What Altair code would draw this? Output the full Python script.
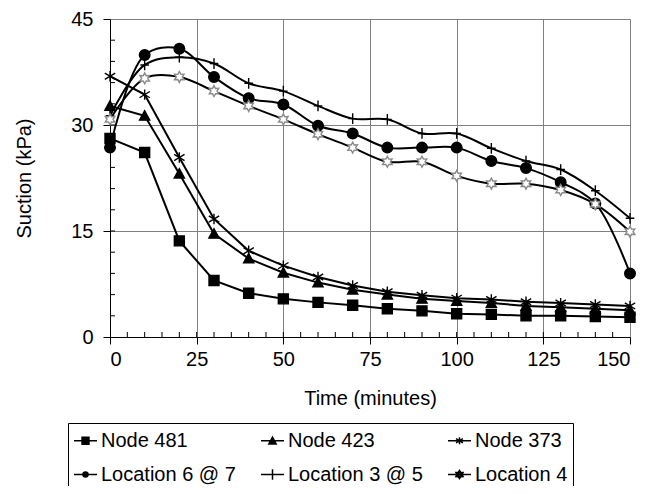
import math
import altair as alt
import pandas as pd

time = [0, 10, 20, 30, 40, 50, 60, 70, 80, 90, 100, 110, 120, 130, 140, 150]

node_481 = [28.1, 26.1, 13.6, 8.0, 6.2, 5.4, 4.9, 4.5, 4.0, 3.7, 3.3, 3.2, 3.0, 3.0, 2.9, 2.8]
node_423 = [32.7, 31.3, 23.1, 14.6, 11.1, 9.1, 7.7, 6.7, 6.0, 5.4, 5.1, 4.8, 4.4, 4.2, 4.0, 3.8]
node_373 = [36.9, 34.3, 25.4, 16.7, 12.2, 10.1, 8.5, 7.3, 6.4, 5.9, 5.5, 5.3, 5.0, 4.8, 4.6, 4.4]
loc_6_7 = [26.8, 39.9, 40.8, 36.8, 33.8, 32.9, 29.9, 28.8, 26.8, 26.8, 26.8, 24.9, 23.9, 21.9, 18.9, 9.0]
loc_3_5 = [31.3, 38.5, 39.6, 38.7, 35.9, 34.8, 32.7, 30.9, 30.8, 28.8, 28.8, 26.7, 24.9, 23.7, 20.7, 16.8]
loc_4 = [30.8, 36.6, 36.8, 34.8, 32.7, 30.8, 28.7, 26.8, 24.8, 24.8, 22.8, 21.7, 21.7, 20.8, 18.8, 14.9]

series_names = ["Node 481", "Node 423", "Node 373", "Location 6 @ 7", "Location 3 @ 5", "Location 4"]
series_values = [node_481, node_423, node_373, loc_6_7, loc_3_5, loc_4]
smooth_series = ["Location 6 @ 7", "Location 3 @ 5", "Location 4"]

x_ticks = [0, 25, 50, 75, 100, 125, 150]
y_ticks = [0, 15, 30, 45]
x_minor = list(range(5, 150, 5))
y_minor = list(range(3, 45, 3))

FONT = "Liberation Sans"
W, H = 520, 318

rows = []
for name, vals in zip(series_names, series_values):
    for t, v in zip(time, vals):
        rows.append({"Time": t, "Suction": v, "series": name,
                     "smooth": name in smooth_series})
df = pd.DataFrame(rows)
# inward minor tick marks, 5 px long, expressed in data units of the other axis
xminor_df = pd.DataFrame({"Time": x_minor, "k0": 0.0, "k1": 5 * 45 / H})
yminor_df = pd.DataFrame({"Suction": y_minor, "t0": 0.0, "t1": 5 * 150 / W})


# ---- marker paths (unit coordinates) ----
def star_pts(r_out, r_in, n=5, rot=-90):
    pts = []
    for i in range(2 * n):
        r = r_out if i % 2 == 0 else r_in
        a = math.radians(rot + i * 180 / n)
        pts.append((r * math.cos(a), r * math.sin(a)))
    return pts


def poly(pts, reverse=False):
    if reverse:
        pts = pts[::-1]
    s = "M%.3f,%.3f" % pts[0]
    for p in pts[1:]:
        s += "L%.3f,%.3f" % p
    return s + "Z"


def circle_path(r):
    return "M%.3f,0A%.3f,%.3f 0 1,1 %.3f,0A%.3f,%.3f 0 1,1 %.3f,0Z" % (-r, r, r, r, r, r, -r)


def square(r):
    return "M%.3f,%.3fH%.3fV%.3fH%.3fZ" % (-r, -r, r, r, -r)


def tri(r):
    return "M0,%.3fL%.3f,%.3fL%.3f,%.3fZ" % (-r, r, r * 0.85, -r, r * 0.85)


def aster(r):
    return "M%.3f,%.3fL%.3f,%.3fM%.3f,%.3fL%.3f,%.3fM0,%.3fV%.3f" % (
        -r, -r * 0.6, r, r * 0.6, -r, r * 0.6, r, -r * 0.6, -r, r)


def plus(r, h=None):
    h = r if h is None else h
    return "M%.3f,0H%.3fM0,%.3fV%.3f" % (-r, r, -h, h)


star_outline = poly(star_pts(1, 0.55, n=6, rot=-90))
star_ring = poly(star_pts(0.36, 0.22, n=6)) + poly(star_pts(0.26, 0.14, n=6), reverse=True)

point_shapes = [square(1), tri(1), aster(1), circle_path(1), plus(0.8, 1), star_outline]
point_fills = ["black", "black", "transparent", "black", "transparent", "white"]
point_strokes = ["black", "black", "black", "black", "black", "#8a8a8a"]
point_sizes = [100, 120, 110, 55, 200, 110]

leg = "M-1,0H1"
legend_shapes = [leg + square(0.3), leg + tri(0.32), leg + aster(0.3),
                 leg + circle_path(0.22), leg + plus(0.0001, 0.45), leg + star_ring]
legend_strokes = ["black"] * 6

sx = alt.Scale(domain=[0, 150], nice=False)
sy = alt.Scale(domain=[0, 45], nice=False)

major_x = alt.Axis(values=x_ticks, title="Time (minutes)", orient="bottom",
                   grid=True, gridColor="#808080", gridWidth=1,
                   domainColor="black", tickColor="black", tickSize=7,
                   labelFontSize=20, labelPadding=5, titleFontSize=20,
                   titleFontWeight="normal", titlePadding=19,
                   labelColor="black", titleColor="black", labelFont=FONT, titleFont=FONT)
major_y = alt.Axis(values=y_ticks, title="Suction (kPa)", orient="left",
                   grid=True, gridColor="#808080", gridWidth=1,
                   domainColor="black", tickColor="black", tickSize=7,
                   labelFontSize=20, labelPadding=10, titleFontSize=20,
                   titleFontWeight="normal", titlePadding=36,
                   labelColor="black", titleColor="black", labelFont=FONT, titleFont=FONT)

# every layer carries the same axis definition so the shared axes merge cleanly
X = alt.X("Time:Q", scale=sx, axis=major_x)
Y = alt.Y("Suction:Q", scale=sy, axis=major_y)

base = alt.Chart(df)

lines_straight = base.transform_filter("!datum.smooth").mark_line(
    color="black", strokeWidth=2
).encode(x=X, y=Y, detail="series:N", order="Time:Q")

lines_smooth = base.transform_filter("datum.smooth").mark_line(
    color="black", strokeWidth=2, interpolate="catmull-rom"
).encode(x=X, y=Y, detail="series:N", order="Time:Q")

minor_x_rules = alt.Chart(xminor_df).mark_rule(color="black", strokeWidth=1).encode(
    x=X,
    y=alt.Y("k0:Q", scale=sy, axis=major_y),
    y2="k1:Q",
)
minor_y_rules = alt.Chart(yminor_df).mark_rule(color="black", strokeWidth=1).encode(
    y=Y,
    x=alt.X("t0:Q", scale=sx, axis=major_x),
    x2="t1:Q",
)

points = base.mark_point(filled=True, strokeWidth=1.4, opacity=1).encode(
    x=X, y=Y,
    shape=alt.Shape("series:N", scale=alt.Scale(domain=series_names, range=point_shapes), legend=None),
    fill=alt.Fill("series:N", scale=alt.Scale(domain=series_names, range=point_fills), legend=None),
    stroke=alt.Stroke("series:N", scale=alt.Scale(domain=series_names, range=point_strokes), legend=None),
    size=alt.Size("series:N", scale=alt.Scale(domain=series_names, range=point_sizes), legend=None),
)

legend_props = dict(title=None, orient="none", legendX=-42, legendY=404,
                    columns=3, direction="horizontal",
                    labelFontSize=20, labelFont=FONT,
                    labelColor="black", symbolSize=529,
                    symbolOpacity=1, symbolStrokeWidth=1.5,
                    symbolFillColor="black",
                    strokeColor="black", fillColor="white",
                    padding=5, rowPadding=11, columnPadding=22,
                    labelOffset=3, labelLimit=400)

legend_layer = base.transform_filter("false").mark_point(
    filled=False, fill="black", strokeWidth=1.5
).encode(
    x=X, y=Y,
    shape=alt.Shape("series:N", scale=alt.Scale(domain=series_names, range=legend_shapes),
                    legend=alt.Legend(**legend_props)),
    stroke=alt.Stroke("series:N", scale=alt.Scale(domain=series_names, range=legend_strokes),
                      legend=alt.Legend(**legend_props)),
)

chart = alt.layer(lines_straight, lines_smooth, minor_x_rules, minor_y_rules,
                  points, legend_layer).resolve_scale(
    shape="independent", stroke="independent"
).properties(
    width=W, height=H,
    autosize=alt.AutoSizeParams(type="none"),
    padding={"left": 102, "top": 11, "right": 28, "bottom": 149},
).configure_view(stroke="#808080", strokeWidth=1).configure(background="white")

chart.save("out.html", embed_options={"renderer": "svg", "actions": False})
